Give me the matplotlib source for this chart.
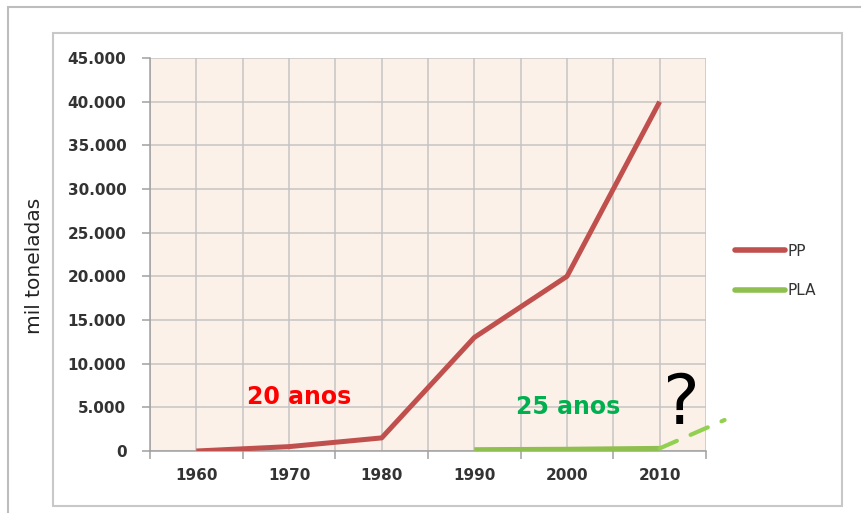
import matplotlib
matplotlib.use('Agg')
import matplotlib.pyplot as plt
from matplotlib.patches import Rectangle
from matplotlib.ticker import FuncFormatter, MultipleLocator, FixedLocator

years = ['1960', '1970', '1980', '1990', '2000', '2010']
pp = [0, 500, 1500, 13000, 20000, 40000]
pla_years = ['1990', '2000', '2010']
pla = [150, 200, 300]
# guessed trend after 2010 (dashed, runs past the plot)
pla_trend = [300, 3550]
trend_span = 0.7

notes = ['20 anos', '25 anos', '?']

plt.rcParams['font.family'] = 'DejaVu Sans'

fig = plt.figure(figsize=(8.61, 5.13), dpi=100)
W, H = 861.0, 513.0

# chart frames (outer one runs off the picture)
fig.patches.append(Rectangle((8/W, -0.1), 1.2, 1 - 7/H + 0.1, transform=fig.transFigure,
                             fill=False, ec='#bdbdbd', lw=1.5))
fig.patches.append(Rectangle((53/W, 7/H), (842-53)/W, (506-33)/H, transform=fig.transFigure,
                             fill=False, ec='#c8c8c8', lw=1.5))

ax = fig.add_axes([150/W, 62/H, 556/W, 393/H])
ax.set_facecolor('#fcf1e8')

x = list(range(len(years)))
xp = [years.index(y) for y in pla_years]

ax.plot(x, pp, color='#c0504d', lw=3.6, label='PP', solid_capstyle='butt', zorder=3)
ax.plot(xp, pla, color='#8fbf4f', lw=3.6, label='PLA', solid_capstyle='butt', zorder=3)
ax.plot([xp[-1], xp[-1] + trend_span], pla_trend, color='#92d050', lw=3,
        linestyle=(0, (4.5, 3.6)), dash_capstyle='round', clip_on=False, zorder=3)

ax.set_xlim(-0.5, len(years) - 0.5)
ax.set_ylim(0, 45000)

# gridlines every half category, ticks at category borders
ax.xaxis.set_major_locator(FixedLocator([i - 0.5 for i in range(len(years) + 1)]))
ax.xaxis.set_minor_locator(FixedLocator(x))
ax.xaxis.set_major_formatter(FuncFormatter(lambda v, p: ''))
ax.xaxis.set_minor_formatter(FuncFormatter(lambda v, p: years[int(round(v))]))
ax.yaxis.set_major_locator(MultipleLocator(5000))
ax.yaxis.set_major_formatter(FuncFormatter(lambda v, p: '{:,.0f}'.format(v).replace(',', '.')))

ax.grid(True, which='both', axis='x', color='#c4c4c4', lw=1.1)
ax.grid(True, which='major', axis='y', color='#c4c4c4', lw=1.1)
ax.set_axisbelow(True)

ax.tick_params(axis='x', which='major', length=6, width=1.1, color='#a0a0a0')
ax.tick_params(axis='x', which='minor', length=0, pad=12, labelsize=11, labelcolor='#333333')
ax.tick_params(axis='y', length=6, width=1.1, color='#a0a0a0', pad=11, labelsize=11,
               labelcolor='#333333')
for lab in ax.get_xticklabels(minor=True) + ax.get_yticklabels():
    lab.set_fontweight('bold')

for s in ['top', 'right']:
    ax.spines[s].set_visible(False)
for s in ['left', 'bottom']:
    ax.spines[s].set_color('#a0a0a0')
    ax.spines[s].set_linewidth(1.1)

fig.text(35/W, 1 - 266/H, 'mil toneladas', rotation=90, ha='center', va='center',
         fontsize=14.5, color='#222222')

ax.text(1.11, 6180, notes[0], color='#ff0000', fontsize=17, fontweight='bold',
        ha='center', va='center')
ax.text(4.01, 5040, notes[1], color='#00b050', fontsize=17, fontweight='bold',
        ha='center', va='center')
ax.text(5.24, 5300, notes[2], color='black', fontsize=50, ha='center', va='center')

leg = ax.legend(loc='center left', bbox_to_anchor=(735/W, 1 - 271/H),
                bbox_transform=fig.transFigure, frameon=False, fontsize=11,
                handlelength=3.3, handletextpad=0.15, labelspacing=1.6,
                borderpad=0, borderaxespad=0)
for t in leg.get_texts():
    t.set_color('#333333')
for l in leg.get_lines():
    l.set_linewidth(4)
    l.set_solid_capstyle('round')

fig.savefig('out.png', dpi=100)
